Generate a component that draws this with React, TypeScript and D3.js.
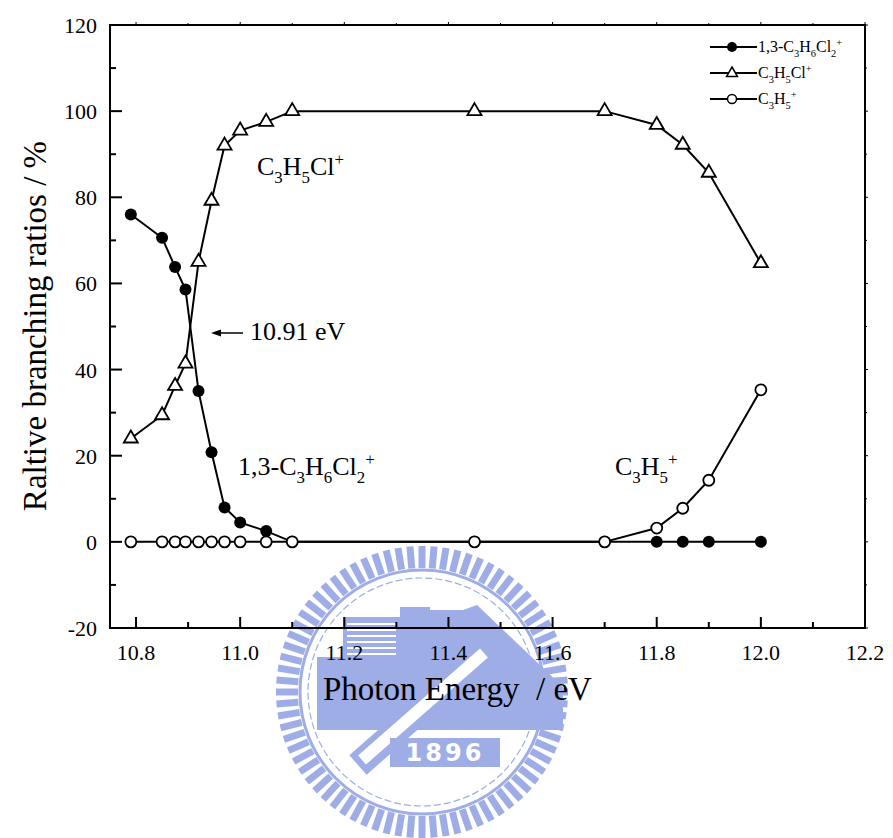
import React from "react";
import * as d3 from "d3";

// photon energy (eV) and branching ratios (%)
const energies = [10.79, 10.85, 10.875, 10.895, 10.92, 10.945, 10.97, 11.0, 11.05, 11.1, 11.45, 11.7, 11.8, 11.85, 11.9, 12.0];
const parentIon = [76, 70.6, 63.8, 58.6, 35, 20.8, 8, 4.5, 2.5, 0, 0, 0, 0, 0, 0, 0];
const chlorideIon = [24, 29.4, 36.2, 41.4, 65, 79.2, 92, 95.5, 97.5, 100, 100, 100, 96.8, 92.2, 85.7, 64.7];
const allylIon = [0, 0, 0, 0, 0, 0, 0, 0, 0, 0, 0, 0, 3.2, 7.8, 14.3, 35.3];

const xTicks = [10.8, 11.0, 11.2, 11.4, 11.6, 11.8, 12.0, 12.2];
const xMinor = [10.9, 11.1, 11.3, 11.5, 11.7, 11.9, 12.1];
const yTicks = [-20, 0, 20, 40, 60, 80, 100, 120];
const yMinor = [-10, 10, 30, 50, 70, 90, 110];

const FONT = "'Times New Roman', 'Liberation Serif', serif";

type Part = [string, "n" | "sub" | "sup"];

const Chem = ({ x, y, size, parts }: { x: number; y: number; size: number; parts: Part[] }) => {
  let shift = 0;
  return (
    <text x={x} y={y} fontSize={size} fontFamily={FONT} fill="#000">
      {parts.map(([t, k], i) => {
        const target = k === "sub" ? size * 0.3 : k === "sup" ? -size * 0.4 : 0;
        const dy = target - shift;
        shift = target;
        return (
          <tspan key={i} dy={dy} fontSize={k === "n" ? size : size * 0.65}>
            {t}
          </tspan>
        );
      })}
    </text>
  );
};

const parentName: Part[] = [["1,3-C", "n"], ["3", "sub"], ["H", "n"], ["6", "sub"], ["Cl", "n"], ["2", "sub"], ["+", "sup"]];
const chlorideName: Part[] = [["C", "n"], ["3", "sub"], ["H", "n"], ["5", "sub"], ["Cl", "n"], ["+", "sup"]];
const allylName: Part[] = [["C", "n"], ["3", "sub"], ["H", "n"], ["5", "sub"], ["+", "sup"]];

const triPath = "M0,-8L7,4L-7,4Z";

// faint university seal behind the axis
const Watermark = () => {
  const cx = 422, cy = 692;
  const c = "#9eade6";
  const teeth = d3.range(76).map((i) => (i / 76) * 360);
  return (
    <g>
      {teeth.map((a, i) => (
        <rect key={i} x={-3.5} y={-146} width={7} height={22} fill={c}
          transform={`translate(${cx},${cy}) rotate(${a})`} />
      ))}
      <circle cx={cx} cy={cy} r={122} fill="none" stroke={c} strokeWidth={3} />
      <circle cx={cx} cy={cy} r={114} fill="none" stroke={c} strokeWidth={1.2} strokeDasharray="7 3" />
      <polygon fill={c}
        points="317,657 343,657 343,617 400,617 400,607 430,607 430,610 463,610 477,605 563,687 563,730 317,730" />
      {d3.range(6).map((i) => (
        <line key={i} x1={347} x2={396} y1={624 + i * 6} y2={624 + i * 6} stroke="#fff" strokeWidth={2} />
      ))}
      <line x1={358} y1={765} x2={486} y2={652} stroke={c} strokeWidth={26} />
      <line x1={362} y1={760} x2={484} y2={653} stroke="#fff" strokeWidth={12} />
      <rect x={390} y={738} width={110} height={29} fill={c} />
      <text x={445} y={761} textAnchor="middle" fill="#fff" fontSize={24} fontWeight="bold"
        fontFamily="'DejaVu Sans', sans-serif" letterSpacing={3}>1896</text>
    </g>
  );
};

const App = () => {
  const width = 893;
  const height = 838;
  const x = d3.scaleLinear().domain([10.75, 12.2]).range([110, 865]);
  const y = d3.scaleLinear().domain([-20, 120]).range([628, 25]);
  const [x0, x1] = x.range();
  const [y0, y1] = y.range();

  const line = d3.line<[number, number]>().x((d) => x(d[0])).y((d) => y(d[1]));
  const pts = (vals: number[]) => energies.map((e, i) => [e, vals[i]] as [number, number]);

  const legendRows = [
    { name: parentName, kind: "filled" },
    { name: chlorideName, kind: "tri" },
    { name: allylName, kind: "open" },
  ];

  return (
    <svg width={width} height={height} style={{ position: "absolute", left: 0, top: 0, background: "#fff" }}>
      <rect width={width} height={height} fill="#fff" />
      <Watermark />

      {/* frame */}
      <rect x={x0} y={y1} width={x1 - x0} height={y0 - y1} fill="none" stroke="#000" strokeWidth={2} />

      {/* x ticks */}
      {xTicks.map((t) => (
        <g key={"xt" + t}>
          <line x1={x(t)} x2={x(t)} y1={y0} y2={y0 - 11} stroke="#000" strokeWidth={2} />
          <line x1={x(t)} x2={x(t)} y1={y1} y2={y1 - 3} stroke="#000" strokeWidth={1} />
          <text x={x(t)} y={660} textAnchor="middle" fontSize={22} fontFamily={FONT}>{d3.format(".1f")(t)}</text>
        </g>
      ))}
      {xMinor.map((t) => (
        <g key={"xm" + t}>
          <line x1={x(t)} x2={x(t)} y1={y0} y2={y0 - 6} stroke="#000" strokeWidth={2} />
          <line x1={x(t)} x2={x(t)} y1={y1} y2={y1 - 2} stroke="#000" strokeWidth={1} />
        </g>
      ))}

      {/* y ticks */}
      {yTicks.map((t) => (
        <g key={"yt" + t}>
          <line x1={x0} x2={x0 + 12} y1={y(t)} y2={y(t)} stroke="#000" strokeWidth={2} />
          <line x1={x1} x2={x1 + 3} y1={y(t)} y2={y(t)} stroke="#000" strokeWidth={1} />
          <text x={97} y={y(t) + 8} textAnchor="end" fontSize={22} fontFamily={FONT}>{t}</text>
        </g>
      ))}
      {yMinor.map((t) => (
        <g key={"ym" + t}>
          <line x1={x0} x2={x0 + 6} y1={y(t)} y2={y(t)} stroke="#000" strokeWidth={2} />
          <line x1={x1} x2={x1 + 2} y1={y(t)} y2={y(t)} stroke="#000" strokeWidth={1} />
        </g>
      ))}

      {/* axis titles */}
      <text x={323} y={700} fontSize={33} fontFamily={FONT} style={{ whiteSpace: "pre" }}>Photon Energy  / eV</text>
      <text transform="translate(46,326) rotate(-90)" textAnchor="middle" fontSize={33} fontFamily={FONT}>
        Raltive branching ratios / %
      </text>

      {/* series: 1,3-C3H6Cl2+ */}
      <path d={line(pts(parentIon)) ?? ""} fill="none" stroke="#000" strokeWidth={2} />
      {pts(parentIon).map((d, i) => (
        <circle key={"p" + i} cx={x(d[0])} cy={y(d[1])} r={6} fill="#000" />
      ))}

      {/* series: C3H5Cl+ */}
      <path d={line(pts(chlorideIon)) ?? ""} fill="none" stroke="#000" strokeWidth={2} />
      {pts(chlorideIon).map((d, i) => (
        <path key={"c" + i} d={triPath} transform={`translate(${x(d[0])},${y(d[1])})`}
          fill="#fff" stroke="#000" strokeWidth={1.8} strokeLinejoin="miter" />
      ))}

      {/* series: C3H5+ */}
      <path d={line(pts(allylIon)) ?? ""} fill="none" stroke="#000" strokeWidth={2} />
      {pts(allylIon).map((d, i) => (
        <circle key={"a" + i} cx={x(d[0])} cy={y(d[1])} r={5.5} fill="#fff" stroke="#000" strokeWidth={1.8} />
      ))}

      {/* annotations */}
      <Chem x={257} y={175} size={26} parts={chlorideName} />
      <Chem x={238} y={475} size={26} parts={parentName} />
      <Chem x={615} y={475} size={26} parts={allylName} />
      <line x1={243} x2={218} y1={333} y2={333} stroke="#000" strokeWidth={1.5} />
      <polygon points="211,333 221,329.5 221,336.5" fill="#000" />
      <text x={250} y={340} fontSize={26} fontFamily={FONT}>10.91 eV</text>

      {/* legend */}
      {legendRows.map((r, i) => {
        const ly = 47 + i * 26;
        return (
          <g key={"lg" + i}>
            <line x1={710} x2={757} y1={ly} y2={ly} stroke="#000" strokeWidth={2} />
            {r.kind === "filled" && <circle cx={732} cy={ly} r={5} fill="#000" />}
            {r.kind === "open" && <circle cx={732} cy={ly} r={4.5} fill="#fff" stroke="#000" strokeWidth={1.5} />}
            {r.kind === "tri" && (
              <path d="M0,-6L5.5,3.5L-5.5,3.5Z" transform={`translate(732,${ly})`} fill="#fff" stroke="#000" strokeWidth={1.5} />
            )}
            <Chem x={758} y={ly + 5} size={16} parts={r.name} />
          </g>
        );
      })}
    </svg>
  );
};

export default App;
